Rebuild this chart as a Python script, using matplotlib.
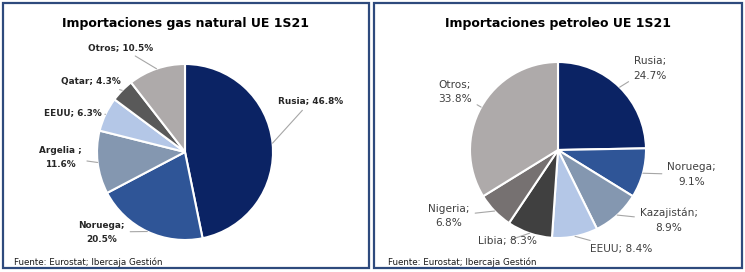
import numpy as np
import matplotlib.pyplot as plt
from matplotlib.patches import Rectangle

# datos
gas_labels = ['Rusia; 46.8%', 'Noruega;\n20.5%', 'Argelia ;\n11.6%', 'EEUU; 6.3%', 'Qatar; 4.3%', 'Otros; 10.5%']
gas_values = [46.8, 20.5, 11.6, 6.3, 4.3, 10.5]
gas_colors = ['#0b2364', '#2f5597', '#8497b0', '#b4c7e7', '#595959', '#aeaaaa']

oil_labels = ['Rusia;\n24.7%', 'Noruega;\n9.1%', 'Kazajistán;\n8.9%', 'EEUU; 8.4%', 'Libia; 8.3%', 'Nigeria;\n6.8%', 'Otros;\n33.8%']
oil_values = [24.7, 9.1, 8.9, 8.4, 8.3, 6.8, 33.8]
oil_colors = ['#0b2364', '#2f5597', '#8497b0', '#b4c7e7', '#404040', '#767171', '#aeaaaa']

# label offsets (units of pie radius)
gas_pos = [(1.43, 0.58), (-0.95, -0.91), (-1.42, -0.06), (-1.27, 0.45), (-1.07, 0.80), (-0.73, 1.19)]
oil_pos = [(1.05, 0.93), (1.52, -0.28), (1.26, -0.80), (0.72, -1.125), (-0.57, -1.03), (-1.24, -0.75), (-1.17, 0.66)]

W, H = 745, 272
fig = plt.figure(figsize=(W / 100, H / 100), dpi=100)
ax = fig.add_axes([0, 0, 1, 1])
R = 88


def draw_pie(values, colors, labels, pos, cx, cy, bold):
    ax.pie(values, colors=colors, startangle=90, counterclock=False,
           center=(cx, cy), radius=R,
           wedgeprops=dict(edgecolor='white', linewidth=1.5))
    cum = np.cumsum([0] + values)
    tot = cum[-1]
    for i, lab in enumerate(labels):
        mid = (cum[i] + cum[i + 1]) / 2 / tot
        ang = np.deg2rad(90 - 360 * mid)
        ex, ey = cx + R * np.cos(ang), cy + R * np.sin(ang)
        tx, ty = cx + pos[i][0] * R, cy + pos[i][1] * R
        if bold:
            kw = dict(fontsize=6.4, fontweight='bold', color='#262626', linespacing=1.7)
        else:
            kw = dict(fontsize=7.6, fontweight='normal', color='#404040', linespacing=1.6)
        ax.annotate(lab, xy=(ex, ey), xytext=(tx, ty), ha='center', va='center',
                    arrowprops=dict(arrowstyle='-', color='#a6a6a6', lw=0.8,
                                    shrinkA=2, shrinkB=0), **kw)


draw_pie(gas_values, gas_colors, gas_labels, gas_pos, 185, H - 152, True)
draw_pie(oil_values, oil_colors, oil_labels, oil_pos, 558, H - 150, False)

ax.set_xlim(0, W)
ax.set_ylim(0, H)
ax.set_aspect('equal')
ax.axis('off')

for x0, x1 in [(2.5, 369), (373.5, 742)]:
    ax.add_patch(Rectangle((x0, H - 268), x1 - x0, 265, fill=False,
                           edgecolor='#2e4a7d', linewidth=1.6))

ax.text(185, H - 24, 'Importaciones gas natural UE 1S21', ha='center', va='center',
        fontsize=9, fontweight='bold', color='black')
ax.text(558, H - 24, 'Importaciones petroleo UE 1S21', ha='center', va='center',
        fontsize=9, fontweight='bold', color='black')

for x in [14, 388]:
    ax.text(x, H - 262, 'Fuente: Eurostat; Ibercaja Gestión', ha='left', va='center',
            fontsize=6.3, color='#1a1a1a')

fig.savefig('out.png', dpi=100)
